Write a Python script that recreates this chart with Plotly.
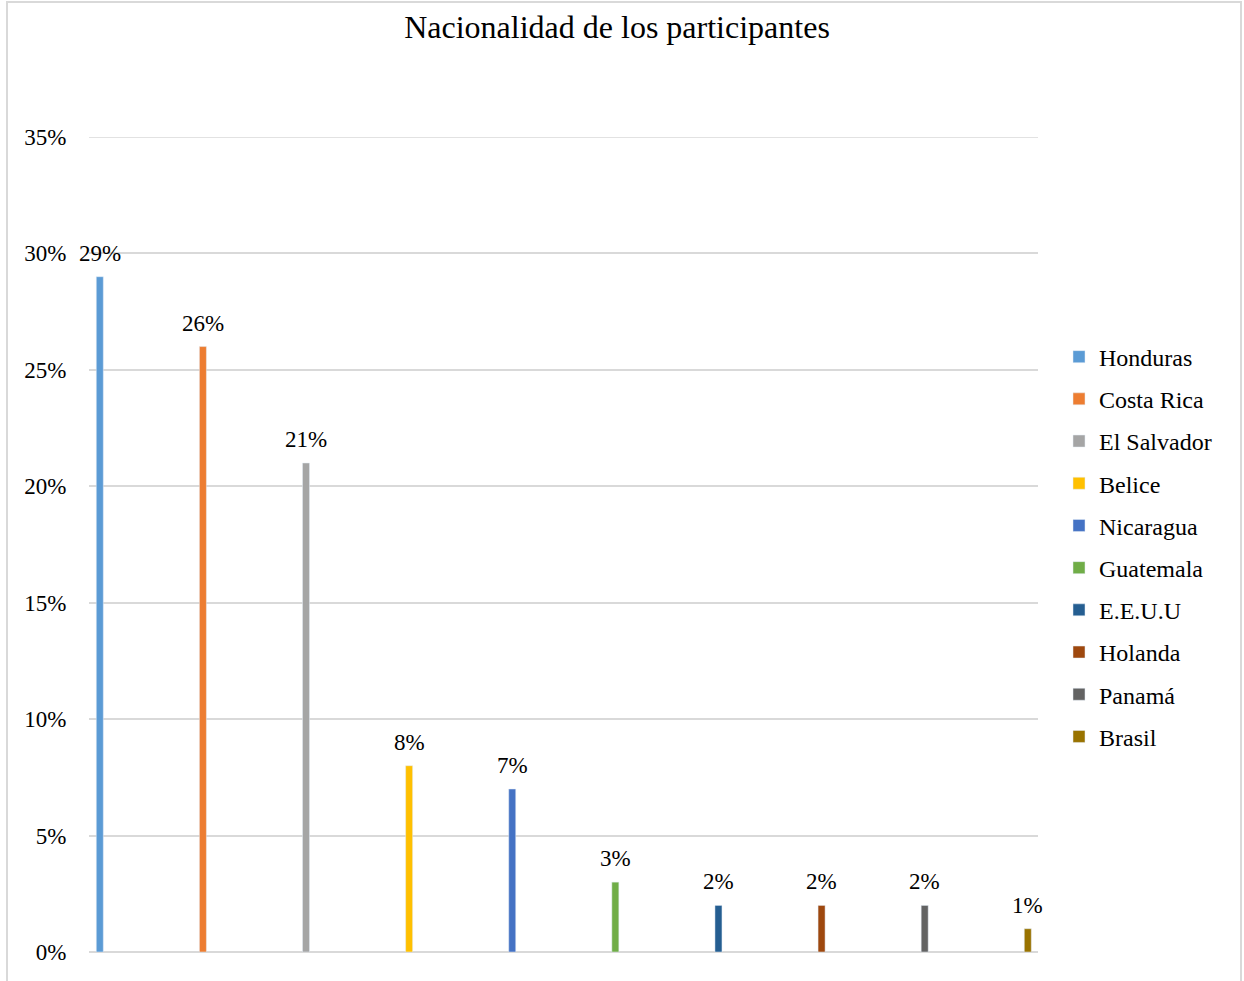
import plotly.graph_objects as go

countries = ["Honduras", "Costa Rica", "El Salvador", "Belice", "Nicaragua",
             "Guatemala", "E.E.U.U", "Holanda", "Panamá", "Brasil"]
shares = [0.29, 0.26, 0.21, 0.08, 0.07, 0.03, 0.02, 0.02, 0.02, 0.01]
colors = ["#5B9BD5", "#ED7D31", "#A5A5A5", "#FFC000", "#4472C4",
          "#70AD47", "#255E91", "#9E480E", "#636363", "#997300"]
y_ticks = [0, 0.05, 0.10, 0.15, 0.20, 0.25, 0.30, 0.35]
y_tick_labels = ["0%", "5%", "10%", "15%", "20%", "25%", "30%", "35%"]

FONT = "Liberation Serif, Times New Roman, serif"

fig = go.Figure()
for i, (name, val, col) in enumerate(zip(countries, shares, colors)):
    fig.add_trace(go.Bar(
        x=[i], y=[val], name=name, marker_color=col, width=0.068,
        legendgroup=name, hoverinfo="name+y",
    ))
    fig.add_annotation(
        x=i, y=val, text=f"{round(val*100)}%", showarrow=False,
        yanchor="bottom", yshift=9, font=dict(family=FONT, size=23, color="#000"),
    )

fig.update_layout(
    width=1244, height=981,
    margin=dict(l=89, r=206, t=137, b=29),
    plot_bgcolor="white", paper_bgcolor="white",
    barmode="overlay",
    font=dict(family=FONT, size=23, color="#000"),
    title=dict(text="Nacionalidad de los participantes", xref="container", x=0.496,
               xanchor="center", yref="container", y=1 - 27/981, yanchor="middle",
               font=dict(family=FONT, size=32, color="#000")),
    xaxis=dict(range=[-0.1047, 9.099], showticklabels=False, showgrid=False,
               zeroline=False, showline=False, fixedrange=True),
    yaxis=dict(range=[0, 0.35], tickvals=y_ticks, ticktext=y_tick_labels,
               showgrid=True, gridcolor="#d9d9d9", gridwidth=1.5,
               zeroline=True, zerolinecolor="#d9d9d9", zerolinewidth=1.5,
               showline=False, ticks="outside", ticklen=17,
               tickcolor="rgba(0,0,0,0)", tickfont=dict(family=FONT, size=23)),
    legend=dict(x=(1059-89)/949, xanchor="left", y=0.4975, yanchor="middle",
                font=dict(family=FONT, size=24), tracegroupgap=8,
                bgcolor="rgba(0,0,0,0)"),
    showlegend=True,
)

# top gridline (35%) sits on the plot edge, draw it explicitly
fig.add_shape(type="line", xref="paper", yref="y", x0=0, x1=1,
              y0=y_ticks[-1], y1=y_ticks[-1],
              line=dict(color="#d9d9d9", width=1.5), layer="below")

fig.add_shape(type="rect", xref="paper", yref="paper",
              x0=(7-89)/949, x1=(1241-89)/949, y0=(952-990)/815, y1=(952-2)/815,
              line=dict(color="#d9d9d9", width=2), fillcolor="rgba(0,0,0,0)", layer="below")

fig.write_html("out.html")
